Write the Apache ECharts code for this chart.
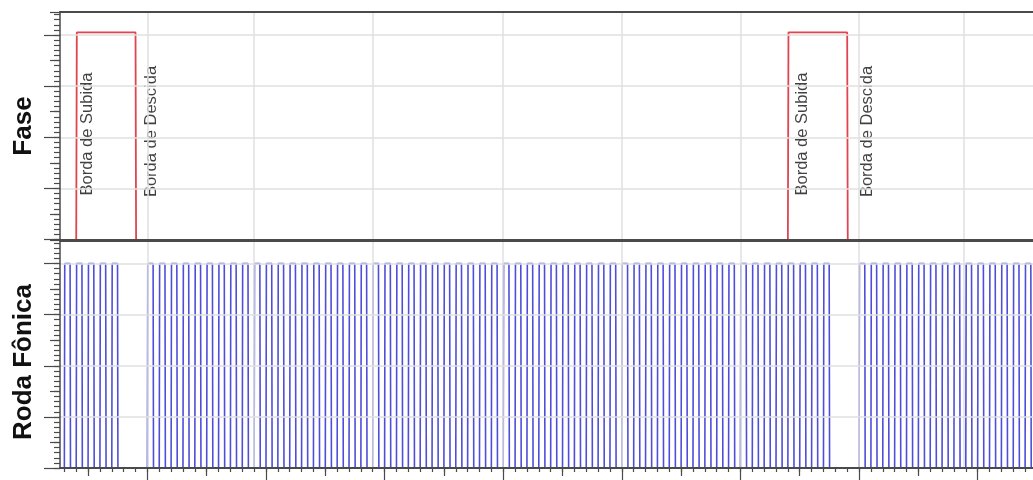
<!DOCTYPE html>
<html>
<head>
<meta charset="utf-8">
<script src="https://cdn.jsdelivr.net/npm/echarts@6/dist/echarts.min.js"></script>
<style>
  html, body { margin: 0; padding: 0; background: #ffffff; }
  #chart { width: 1033px; height: 480px; }
</style>
</head>
<body>
<div id="chart"></div>
<script>
// Crank angle in degrees; 0 is the rising edge of the first tooth after the gap.
// 60-2 trigger wheel: one tooth every 6 degrees, two teeth missing per turn.
const toothRise = [
  -42, -36, -30, -24, -18,
  0, 6, 12, 18, 24, 30, 36, 42, 48, 54, 60, 66, 72, 78, 84, 90, 96, 102, 108, 114,
  120, 126, 132, 138, 144, 150, 156, 162, 168, 174, 180, 186, 192, 198, 204, 210,
  216, 222, 228, 234, 240, 246, 252, 258, 264, 270, 276, 282, 288, 294, 300, 306,
  312, 318, 324, 330, 336, 342,
  360, 366, 372, 378, 384, 390, 396, 402, 408, 414, 420, 426, 432, 438, 444
];
const toothWidth = 2.9;
const wheelHigh = 4.0;
const wheelLow = -0.05;

// Cam phase signal (one pulse per turn)
const phaseRise = [-36, 324];
const phaseFall = [-6, 354];
const phaseHigh = 4.05;
const phaseLow = -0.05;

// Edge annotations
const edgeLabels = ['Borda de Subida', 'Borda de Descida', 'Borda de Subida', 'Borda de Descida'];
const edgeLabelX = [-30.5, 2.2, 331.4, 364.3];
const edgeLabelY = [0.86, 0.83, 0.86, 0.83];

const panelTitles = ['Fase', 'Roda Fônica'];

// Vertical grid lines
const vGridLines = [0, 54, 114, 180, 240, 300, 360, 413];

// Axis extents
const xMin = -44.2, xMax = 448;
const yMin = 0, yMax = 4.45;

// Tick positions
const xTickStep = 6;
const xMajorTicks = [0, 60, 120, 180, 240, 300, 360, 420];
const xMidTicks = [-30, 30, 90, 150, 210, 270, 330, 390];
const yMajorTicks = [0, 1, 2, 3, 4];
const yMidTicks = [0.5, 1.5, 2.5, 3.5, 4.45];
const yMinorStep = 0.1;

const xMinorTicks = [];
for (let v = -42; v <= xMax; v += xTickStep) xMinorTicks.push(v);
const yMinorTicks = [];
for (let i = 0; i * yMinorStep <= yMax + 1e-9; i++) yMinorTicks.push(+(i * yMinorStep).toFixed(2));

// Build the square waves from the edge lists
const wheelData = [[xMin, wheelLow]];
toothRise.forEach(a => {
  wheelData.push([a, wheelLow], [a + 0.2, wheelHigh], [a + toothWidth, wheelHigh], [a + toothWidth + 0.2, wheelLow]);
});
wheelData.push([xMax, wheelLow]);

const phaseData = [[xMin, phaseLow]];
phaseRise.forEach((r, i) => {
  phaseData.push([r, phaseLow], [r + 0.3, phaseHigh], [phaseFall[i], phaseHigh], [phaseFall[i] + 0.3, phaseLow]);
});
phaseData.push([xMax, phaseLow]);

const labelData = edgeLabels.map((t, i) => ({ value: [edgeLabelX[i], edgeLabelY[i]], name: t }));

const AXIS = '#4a4a4a';
const GRIDC = '#e0e0e0';
const FONT = '"Liberation Sans", Arial, sans-serif';

const grids = [
  { left: 60, right: 0, top: 12, height: 227.5 },
  { left: 60, right: 0, top: 240.5, height: 227.5 }
];

const hiddenLine = { show: false, onZero: false };

function xAx(grid, pos, opts) {
  return Object.assign({
    type: 'value', gridIndex: grid, position: pos, min: xMin, max: xMax,
    axisLabel: { show: false }, splitLine: { show: false },
    axisLine: hiddenLine, axisTick: { show: false }, z: 5
  }, opts);
}
function yAx(grid, opts) {
  return Object.assign({
    type: 'value', gridIndex: grid, position: 'left', min: yMin, max: yMax,
    axisLabel: { show: false }, splitLine: { show: false },
    axisLine: hiddenLine, axisTick: { show: false }, z: 5
  }, opts);
}
const lineStyle = { color: AXIS, width: 2 };
const tickStyle = { color: AXIS, width: 1.2 };

const xAxes = [
  // top panel
  xAx(0, 'bottom', { axisLine: { show: true, onZero: false, lineStyle } }),
  xAx(0, 'top', { axisLine: { show: true, onZero: false, lineStyle } }),
  // bottom panel
  xAx(1, 'bottom', { axisLine: { show: true, onZero: false, lineStyle },
    axisTick: { show: true, inside: false, length: 12, customValues: xMajorTicks, lineStyle: tickStyle } }),
  xAx(1, 'bottom', { axisTick: { show: true, inside: false, length: 8, customValues: xMidTicks, lineStyle: tickStyle } }),
  xAx(1, 'bottom', { axisTick: { show: true, inside: false, length: 4, customValues: xMinorTicks, lineStyle: tickStyle } }),
  xAx(1, 'top', { axisLine: { show: true, onZero: false, lineStyle } })
];

const yAxes = [];
[0, 1].forEach(g => {
  yAxes.push(
    yAx(g, { axisLine: { show: true, onZero: false, lineStyle: { color: AXIS, width: 1.5 } },
      axisTick: { show: true, length: 16, customValues: yMajorTicks, lineStyle: tickStyle },
      splitLine: { show: true, lineStyle: { color: GRIDC, width: 1.5 } }, interval: 1 }),
    yAx(g, { axisTick: { show: true, length: 10, customValues: yMidTicks, lineStyle: tickStyle } }),
    yAx(g, { axisTick: { show: true, length: 6, customValues: yMinorTicks, lineStyle: tickStyle } })
  );
});

function gridLines(xi, yi) {
  return {
    type: 'line', xAxisIndex: xi, yAxisIndex: yi, data: [], z: 1, silent: true,
    markLine: {
      silent: true, symbol: 'none', label: { show: false },
      lineStyle: { color: GRIDC, width: 1.5, type: 'solid' },
      data: vGridLines.map(v => ({ xAxis: v }))
    }
  };
}

const option = {
  animation: false,
  backgroundColor: '#ffffff',
  grid: grids,
  xAxis: xAxes,
  yAxis: yAxes,
  graphic: [
    { type: 'text', x: 24, y: 126, rotation: Math.PI / 2,
      style: { text: panelTitles[0], font: 'bold 26px ' + FONT, fill: '#111', align: 'center', verticalAlign: 'middle' } },
    { type: 'text', x: 24, y: 362, rotation: Math.PI / 2,
      style: { text: panelTitles[1], font: 'bold 26px ' + FONT, fill: '#111', align: 'center', verticalAlign: 'middle' } }
  ],
  series: [
    gridLines(0, 0),
    gridLines(2, 3),
    {
      name: 'Fase', type: 'line', xAxisIndex: 0, yAxisIndex: 0, data: phaseData,
      showSymbol: false, symbol: 'none', z: 3, clip: true,
      lineStyle: { color: '#e2434f', width: 1.8 }
    },
    {
      name: 'Roda Fônica', type: 'line', xAxisIndex: 2, yAxisIndex: 3, data: wheelData,
      showSymbol: false, symbol: 'none', z: 3, clip: true,
      lineStyle: { color: '#4e4ed8', width: 1.6 }
    },
    {
      type: 'scatter', xAxisIndex: 0, yAxisIndex: 0, data: labelData, z: 4,
      symbol: 'circle', symbolSize: 1, itemStyle: { color: 'rgba(0,0,0,0)' }, silent: true,
      label: {
        show: true, position: 'inside', rotate: 90, align: 'left', verticalAlign: 'middle',
        formatter: p => p.name, color: '#111', fontSize: 16.5, fontFamily: FONT
      }
    }
  ]
};

const chart = echarts.init(document.getElementById('chart'), null, { renderer: 'canvas' });
chart.setOption(option);
</script>
</body>
</html>
